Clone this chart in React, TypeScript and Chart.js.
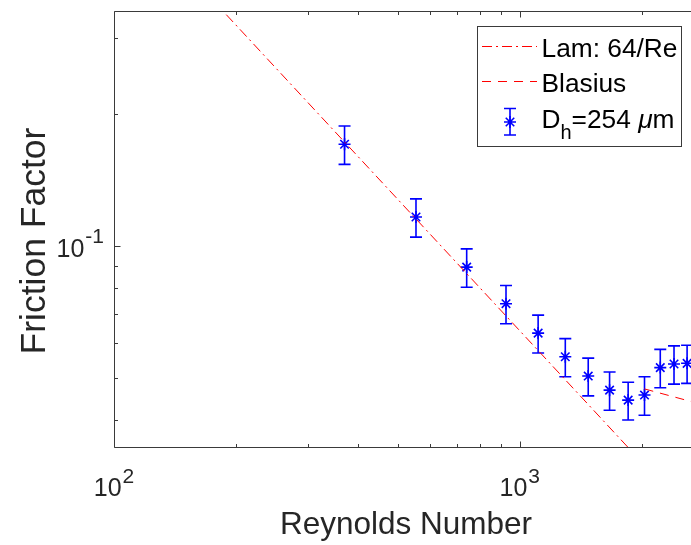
import React, { useEffect, useRef } from "react";
import { Chart, registerables } from "chart.js";

Chart.register(...registerables);

// ---- data ----
const reynolds = [370, 555, 740, 925, 1110, 1295, 1475, 1665, 1850, 2030, 2220, 2400, 2585];
const friction = [0.171, 0.1165, 0.0895, 0.0738, 0.0632, 0.0558, 0.0504, 0.0468, 0.0444, 0.0456, 0.0527, 0.0537, 0.0539];
const frictionErr = [0.0172, 0.0117, 0.009, 0.0074, 0.0063, 0.0056, 0.005, 0.0047, 0.0044, 0.0046, 0.0053, 0.0054, 0.0054];
const lamRe = [150, 2300];
const lamF = [0.42667, 0.027826];
const blasiusRe = [2030, 3000];
const blasiusF = [0.0471, 0.0427];

const xMajorTicks = [100, 1000];
const xMajorExp = ["2", "3"];
const xMinorTicks = [200, 300, 400, 500, 600, 700, 800, 900, 2000];
const yMajorTicks = [0.1];
const yMajorExp = ["-1"];
const yMinorTicks = [0.04, 0.05, 0.06, 0.07, 0.08, 0.09, 0.2, 0.3];

const xTitle = "Reynolds Number";
const yTitle = "Friction Factor";
const legendLam = "Lam: 64/Re";
const legendBlasius = "Blasius";

const FONT = '"Liberation Sans", Arial, Helvetica, sans-serif';
const AXIS = "#3a3a3a";
const TEXT = "#262626";
const BLUE = "#0000ff";
const RED = "#ff0000";
const DASHDOT = [10, 4, 2, 4];
const DASHED = [9, 7];
const CAP = 6;
const MARK_R = 6;
const MARK_W = 1.6;

function drawStar(ctx: CanvasRenderingContext2D, cx: number, cy: number, r: number) {
  const d = r * Math.SQRT1_2;
  ctx.beginPath();
  ctx.moveTo(cx - r, cy); ctx.lineTo(cx + r, cy);
  ctx.moveTo(cx, cy - r); ctx.lineTo(cx, cy + r);
  ctx.moveTo(cx - d, cy - d); ctx.lineTo(cx + d, cy + d);
  ctx.moveTo(cx - d, cy + d); ctx.lineTo(cx + d, cy - d);
  ctx.stroke();
}

function drawPow(ctx: CanvasRenderingContext2D, exp: string, x: number, baseline: number, align: "center" | "right") {
  ctx.textAlign = "left";
  ctx.textBaseline = "alphabetic";
  ctx.font = `25px ${FONT}`;
  const wb = ctx.measureText("10").width;
  ctx.font = `21px ${FONT}`;
  const we = ctx.measureText(exp).width;
  const total = wb + we + 1;
  const start = align === "center" ? x - total / 2 : x - total;
  ctx.font = `25px ${FONT}`;
  ctx.fillText("10", start, baseline);
  ctx.font = `21px ${FONT}`;
  ctx.fillText(exp, start + wb + 1, baseline - 13.5);
}

const overlay = {
  id: "overlay",
  beforeDatasetsDraw(chart: any) {
    const { ctx, chartArea: a, scales } = chart;
    const x = scales.x, y = scales.y;
    ctx.save();
    ctx.beginPath();
    ctx.rect(a.left, a.top, a.right - a.left, a.bottom - a.top);
    ctx.clip();
    ctx.strokeStyle = BLUE;
    ctx.lineWidth = 1.6;
    reynolds.forEach((re, i) => {
      const px = x.getPixelForValue(re);
      const top = y.getPixelForValue(friction[i] + frictionErr[i]);
      const bot = y.getPixelForValue(friction[i] - frictionErr[i]);
      ctx.beginPath();
      ctx.moveTo(px, top); ctx.lineTo(px, bot);
      ctx.moveTo(px - CAP, top); ctx.lineTo(px + CAP, top);
      ctx.moveTo(px - CAP, bot); ctx.lineTo(px + CAP, bot);
      ctx.stroke();
    });
    ctx.restore();
  },
  afterDraw(chart: any) {
    const { ctx, chartArea: a, scales } = chart;
    const x = scales.x, y = scales.y;
    ctx.save();
    // axes box
    ctx.strokeStyle = AXIS;
    ctx.lineWidth = 1;
    const L = Math.round(a.left) + 0.5, R = Math.round(a.right) - 0.5;
    const T = Math.round(a.top) + 0.5, B = Math.round(a.bottom) - 0.5;
    ctx.beginPath();
    ctx.moveTo(L, T); ctx.lineTo(R, T); ctx.lineTo(R, B); ctx.lineTo(L, B); ctx.closePath();
    ctx.stroke();
    // ticks (inward)
    ctx.beginPath();
    const xt = (v: number, len: number) => {
      const p = Math.round(x.getPixelForValue(v)) + 0.5;
      ctx.moveTo(p, B); ctx.lineTo(p, B - len);
      ctx.moveTo(p, T); ctx.lineTo(p, T + len);
    };
    const yt = (v: number, len: number) => {
      const p = Math.round(y.getPixelForValue(v)) + 0.5;
      ctx.moveTo(L, p); ctx.lineTo(L + len, p);
      ctx.moveTo(R, p); ctx.lineTo(R - len, p);
    };
    xMajorTicks.forEach((v) => xt(v, 6));
    xMinorTicks.forEach((v) => xt(v, 3.5));
    yMajorTicks.forEach((v) => yt(v, 6));
    yMinorTicks.forEach((v) => yt(v, 3.5));
    ctx.stroke();

    // tick labels
    ctx.fillStyle = TEXT;
    xMajorTicks.forEach((v, i) => {
      drawPow(ctx, xMajorExp[i], x.getPixelForValue(v), a.bottom + 48, "center");
    });
    yMajorTicks.forEach((v, i) => {
      drawPow(ctx, yMajorExp[i], a.left - 10, y.getPixelForValue(v) + 10.5, "right");
    });

    // axis titles
    ctx.font = `31.5px ${FONT}`;
    ctx.textAlign = "center";
    ctx.textBaseline = "alphabetic";
    ctx.fillText(xTitle, (a.left + a.right) / 2, 533.5);
    ctx.save();
    ctx.font = `35.5px ${FONT}`;
    ctx.translate(45, 241);
    ctx.rotate(-Math.PI / 2);
    ctx.fillText(yTitle, 0, 0);
    ctx.restore();

    // legend
    const bx = 477.5, by = 26.5, bw = 204, bh = 120;
    ctx.fillStyle = "#ffffff";
    ctx.fillRect(bx, by, bw, bh);
    ctx.strokeStyle = "#3a3a3a";
    ctx.lineWidth = 1;
    ctx.strokeRect(bx, by, bw, bh);

    ctx.lineWidth = 1;
    ctx.strokeStyle = RED;
    ctx.setLineDash(DASHDOT);
    ctx.beginPath(); ctx.moveTo(482, 46.5); ctx.lineTo(537, 46.5); ctx.stroke();
    ctx.setLineDash(DASHED);
    ctx.beginPath(); ctx.moveTo(482, 81.5); ctx.lineTo(537, 81.5); ctx.stroke();
    ctx.setLineDash([]);

    ctx.strokeStyle = BLUE;
    ctx.lineWidth = 1.6;
    ctx.beginPath();
    ctx.moveTo(510, 108.5); ctx.lineTo(510, 135);
    ctx.moveTo(510 - CAP, 108.5); ctx.lineTo(510 + CAP, 108.5);
    ctx.moveTo(510 - CAP, 135); ctx.lineTo(510 + CAP, 135);
    ctx.stroke();
    drawStar(ctx, 510, 122, MARK_R);

    ctx.fillStyle = "#000000";
    ctx.textAlign = "left";
    ctx.font = `26.3px ${FONT}`;
    ctx.fillText(legendLam, 541.5, 56.7);
    ctx.fillText(legendBlasius, 541.5, 91.7);
    let cx = 541.5;
    ctx.fillText("D", cx, 128.3);
    cx += ctx.measureText("D").width;
    ctx.font = `20px ${FONT}`;
    ctx.fillText("h", cx, 139);
    cx += ctx.measureText("h").width;
    ctx.font = `26.3px ${FONT}`;
    ctx.fillText("=254 ", cx, 128.3);
    cx += ctx.measureText("=254 ").width;
    ctx.font = `italic 26.3px ${FONT}`;
    ctx.fillText("\u03bc", cx, 128.3);
    cx += ctx.measureText("\u03bc").width;
    ctx.font = `26.3px ${FONT}`;
    ctx.fillText("m", cx, 128.3);
    ctx.restore();
  },
};

export default function App() {
  const ref = useRef<HTMLCanvasElement | null>(null);
  useEffect(() => {
    if (!ref.current) return;
    const chart = new Chart(ref.current, {
      type: "scatter",
      data: {
        datasets: [
          {
            label: legendLam,
            data: lamRe.map((r, i) => ({ x: r, y: lamF[i] })),
            showLine: true,
            borderColor: RED,
            borderWidth: 1,
            borderDash: DASHDOT,
            pointRadius: 0,
            fill: false,
          },
          {
            label: legendBlasius,
            data: blasiusRe.map((r, i) => ({ x: r, y: blasiusF[i] })),
            showLine: true,
            borderColor: RED,
            borderWidth: 1,
            borderDash: DASHED,
            pointRadius: 0,
            fill: false,
          },
          {
            label: "Dh=254 um",
            data: reynolds.map((r, i) => ({ x: r, y: friction[i] })),
            showLine: false,
            pointStyle: "star",
            pointRadius: MARK_R,
            pointBorderWidth: MARK_W,
            borderColor: BLUE,
            backgroundColor: BLUE,
          },
        ],
      },
      options: {
        responsive: false,
        maintainAspectRatio: false,
        animation: false,
        devicePixelRatio: 1,
        layout: { padding: { left: 0, top: 11, right: 22, bottom: 0 } },
        plugins: { legend: { display: false }, tooltip: { enabled: false } },
        scales: {
          x: {
            type: "logarithmic",
            min: 100,
            max: 2750,
            ticks: { display: false },
            grid: { display: false },
            border: { display: false },
            afterFit: (s: any) => { s.height = 97; },
          },
          y: {
            type: "logarithmic",
            min: 0.0345,
            max: 0.345,
            ticks: { display: false },
            grid: { display: false },
            border: { display: false },
            afterFit: (s: any) => { s.width = 114; },
          },
        },
      },
      plugins: [overlay],
    });
    return () => chart.destroy();
  }, []);
  return (
    <div style={{ position: "fixed", left: 0, top: 0, width: 691, height: 545, overflow: "hidden", background: "#fff" }}>
      <canvas ref={ref} width={720} height={545} style={{ display: "block" }} />
    </div>
  );
}
